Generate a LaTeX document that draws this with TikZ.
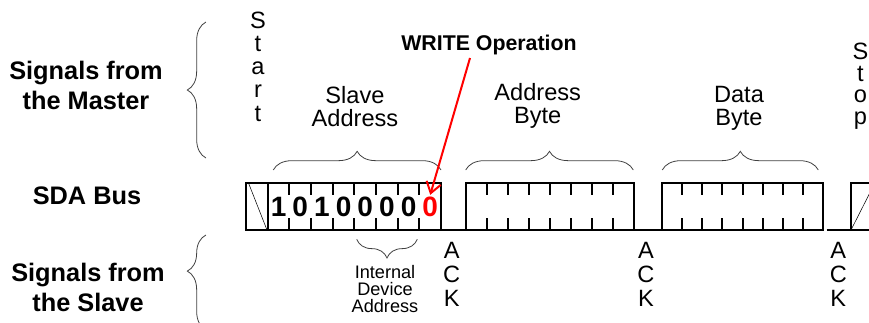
\documentclass[tikz,border=0pt]{standalone}
\usepackage{fontspec}
\setmainfont{Liberation Sans}
\usetikzlibrary{arrows.meta,positioning,decorations.pathreplacing}

\begin{document}
\begin{tikzpicture}[x=0.75pt,y=0.75pt,
  every node/.style={inner sep=0pt},
  side/.style={font=\fontsize{19}{22.5}\selectfont\bfseries,align=center},
  field/.style={font=\fontsize{17.7}{17.3}\selectfont,align=center},
  letter/.style={font=\fontsize{17.7}{17.3}\selectfont,anchor=base},
  bit/.style={font=\fontsize{21}{22}\selectfont\bfseries,inner sep=1.5pt},
  wire/.style={line width=1.5pt},
  tick/.style={line width=1.5pt},
  brc/.style={decorate,decoration={brace,amplitude=14pt},line width=0.6pt,black!75}]

  \useasboundingbox (0,0) rectangle (869,-322);
  \clip (0,0) rectangle (869,-322);

  % Row labels
  \node[side] (master) at (86,-85) {Signals from\\the Master};
  \node[side] (sda) at (87,-196) {SDA Bus};
  \node[side] (slave) at (88,-287) {Signals from\\the Slave};

  % Side braces
  \draw[brc] (206,-158) -- (206,-22);
  \draw[brc,decoration={aspect=0.62}] (206,-330) -- (206,-235);

  % Start and stop
  \foreach \c [count=\i] in {S,t,a,r,t}
    \node[letter] (start\i) at (258,{-28-23.3*(\i-1)}) {\c};
  \foreach \c [count=\i] in {S,t,o,p}
    \node[letter] (stop\i) at (860.5,{-59.5-21.7*(\i-1)}) {\c};

  % Field labels
  \node[field] (slaveaddr) at (355,-106.5) {Slave\\Address};
  \node[field] (addrbyte) at (537.7,-105.5) {Address\\Byte};
  \node[field] (databyte) at (739,-108.5) {Data\\Byte};

  % Field braces
  \draw[brc] (273.3,-170) -- (441,-170);
  \draw[brc] (465.7,-170) -- (633.3,-170);
  \draw[brc] (662.3,-170) -- (818.3,-170);

  % SDA boxes
  \draw[wire] (245.7,-182.7) rectangle (441,-230);
  \draw[wire] (267.7,-182.7) -- (267.7,-230);
  \draw (248.5,-183) -- (267,-230);
  \draw[wire] (465.7,-182.7) rectangle (634,-230);
  \draw[wire] (661.7,-182.7) rectangle (823.3,-230);
  \draw[wire] (851,-182.7) rectangle (875,-230);
  \draw (851,-230) -- (875,-182.7);
  \draw[wire] (441,-230) -- (465.7,-230);
  \draw[wire] (634,-230) -- (661.7,-230);
  \draw[wire] (826.7,-230) -- (851,-230);

  % Bit ticks
  \foreach \l/\w in {267.7/21.67, 465.7/21.04, 661.7/20.2}
    \foreach \i in {1,...,7} {
      \draw[tick] ({\l+\w*\i},-182.7) -- ++(0,-12);
      \draw[tick] ({\l+\w*\i},-230) -- ++(0,12);
    }

  % Slave address bits
  \foreach \v [count=\i] in {1,0,1,0,0,0,0}
    \node[bit] (b\i) at ({267.7+21.67*(\i-0.5)},-207) {\v};
  \node[bit,text=red] (b8) at ({267.7+21.67*7.5},-207) {0};

  % Internal device address
  \draw[brc] (417.3,-239.3) -- (356.7,-239.3);
  \node[font=\fontsize{13.6}{13.1}\selectfont,align=center] (intdev) at (385,-289) {Internal\\Device\\Address};

  % ACK
  \foreach \x/\n in {451.7/1, 646/2, 838.3/3}
    \foreach \c [count=\i] in {A,C,K}
      \node[letter] (ack\n\i) at (\x,{-258.5-24*(\i-1)}) {\c};

  % Write bit
  \node[font=\fontsize{16}{18}\selectfont\bfseries] (write) at (489,-45) {WRITE Operation};
  \coordinate (wtail) at (470,-58);
  \draw[red,line width=1.5pt,-{Straight Barb[length=8pt,width=11pt]}] (wtail) -- (b8.north);
\end{tikzpicture}
\end{document}
